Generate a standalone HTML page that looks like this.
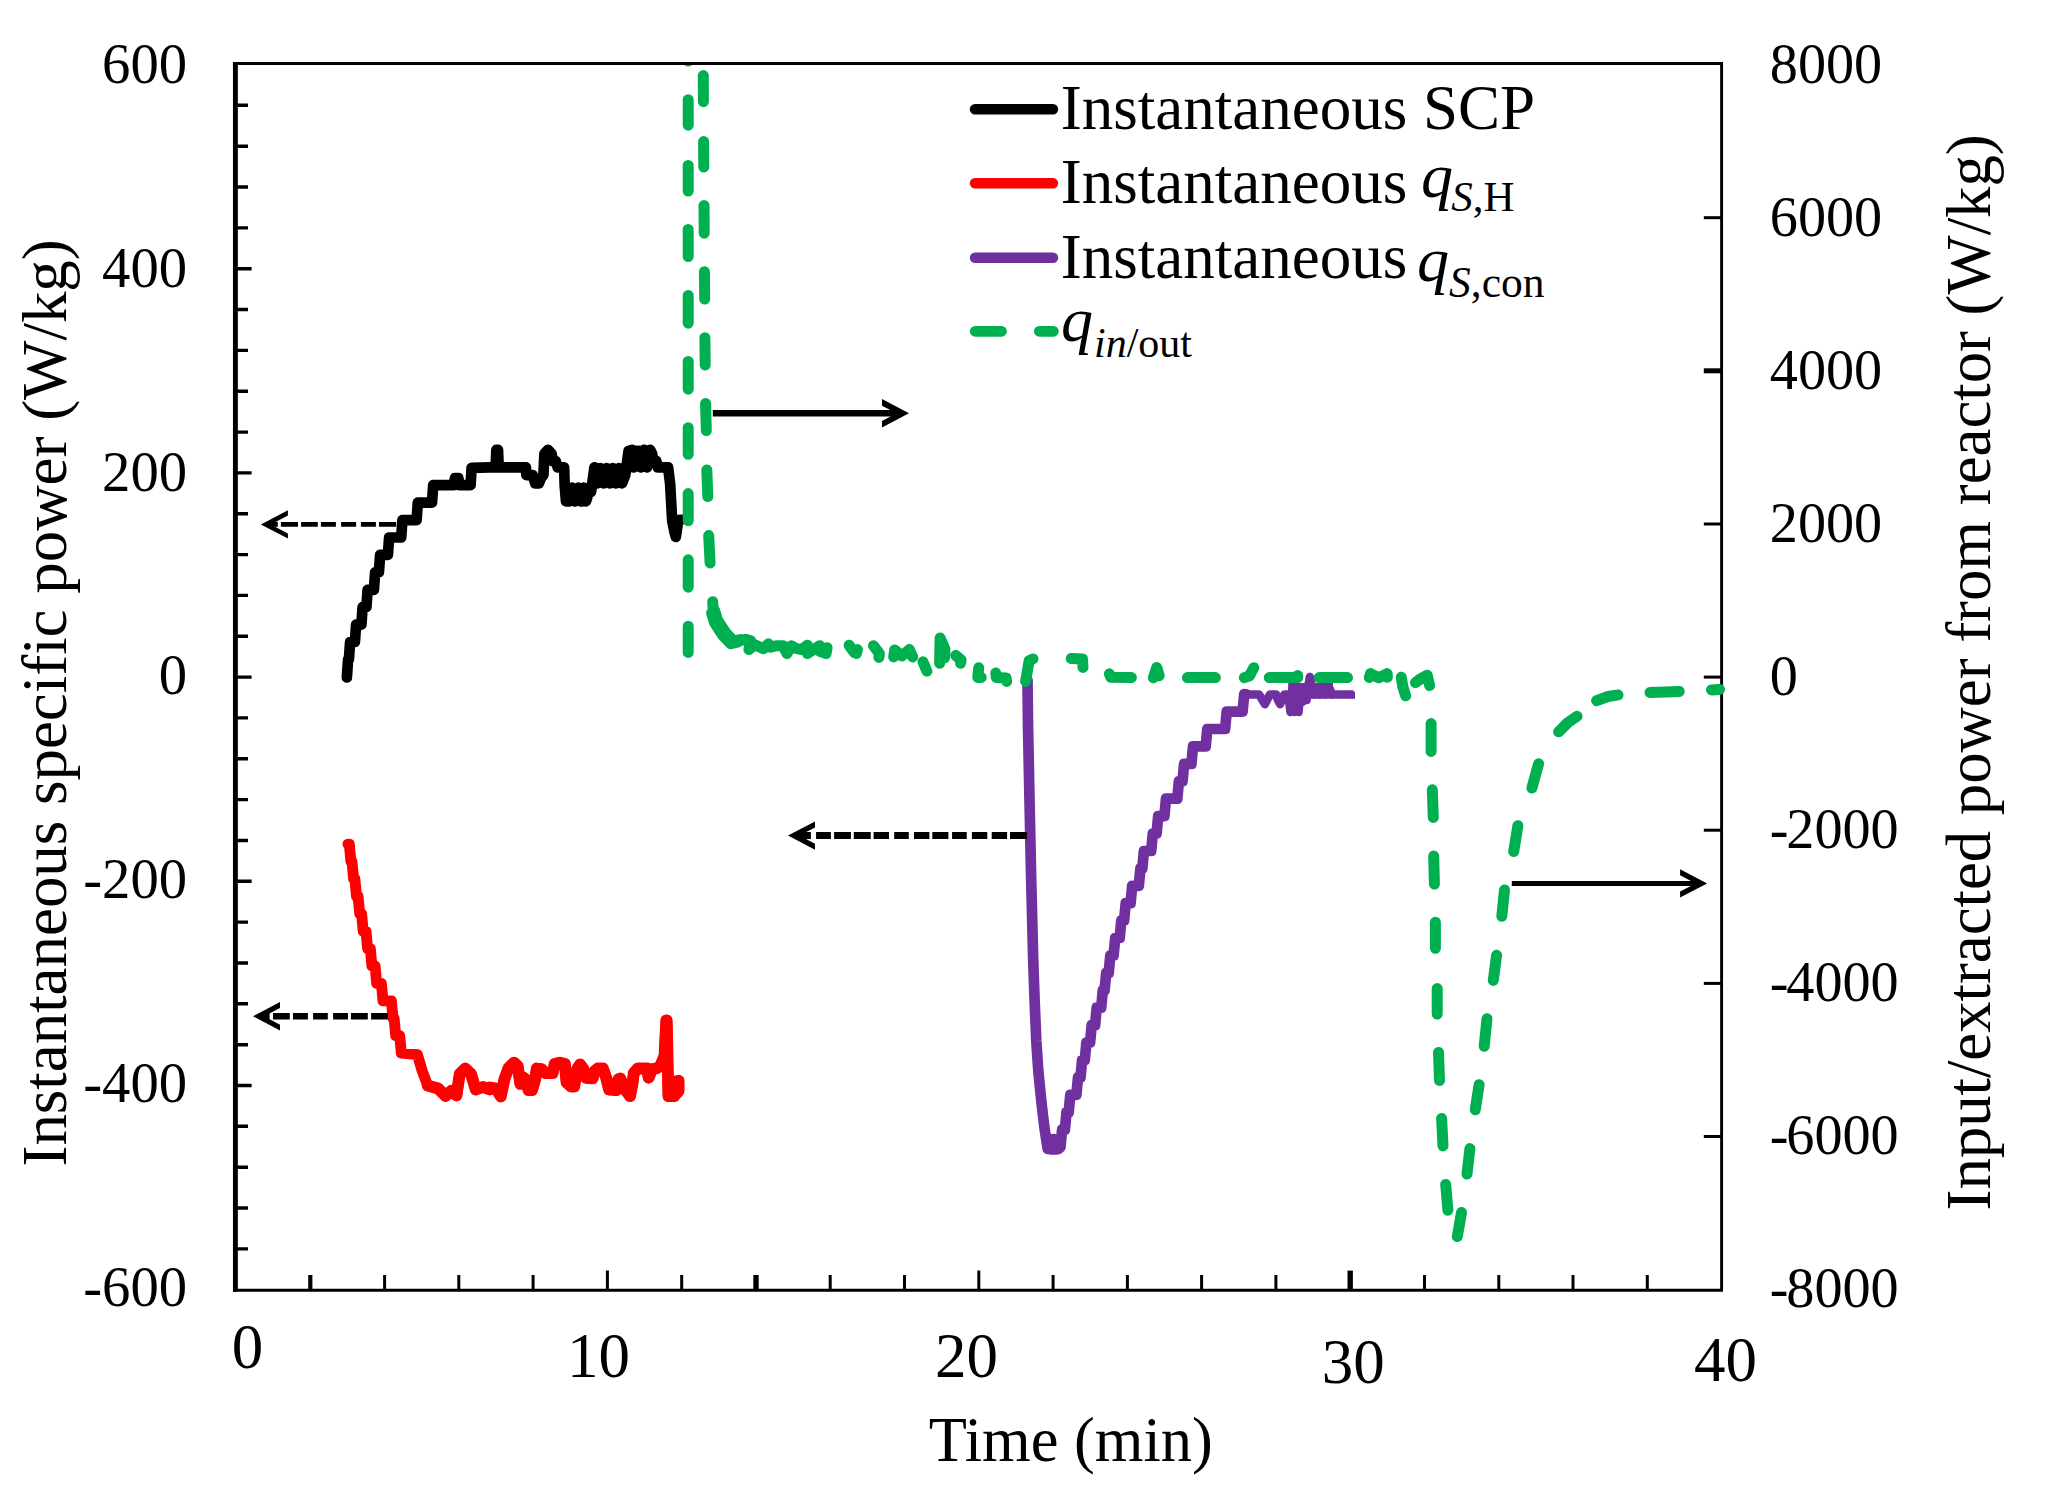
<!DOCTYPE html>
<html lang="en"><head><meta charset="utf-8"><title>Instantaneous specific power chart</title>
<style>html,body{margin:0;padding:0;background:#fff}body{width:2046px;height:1490px;overflow:hidden}svg{display:block}</style>
</head><body>
<svg width="2046" height="1490" viewBox="0 0 2046 1490" shape-rendering="geometricPrecision">
<rect width="2046" height="1490" fill="#fff"/>
<g stroke="#000" fill="none" stroke-linecap="butt">
<line x1="235.4" y1="61.9" x2="235.4" y2="1291.8" stroke-width="4.9"/>
<line x1="233" y1="63.4" x2="1723" y2="63.4" stroke-width="3"/>
<line x1="233" y1="1290.3" x2="1723" y2="1290.3" stroke-width="3.1"/>
<line x1="1721.6" y1="63.4" x2="1721.6" y2="1290.3" stroke-width="2.9"/>
<path d="M235.4 105.3H248M235.4 146.2H248M235.4 187H248M235.4 227.9H248M235.4 268.7H251.6M235.4 309.5H248M235.4 350.4H248M235.4 391.2H248M235.4 432.1H248M235.4 472.9H251.6M235.4 513.7H248M235.4 554.6H248M235.4 595.4H248M235.4 636.3H248M235.4 677.1H251.6M235.4 717.9H248M235.4 758.8H248M235.4 799.6H248M235.4 840.5H248M235.4 881.3H251.6M235.4 922.1H248M235.4 963H248M235.4 1003.8H248M235.4 1044.7H248M235.4 1085.5H251.6M235.4 1126.3H248M235.4 1167.2H248M235.4 1208H248M235.4 1248.9H248" stroke-width="3.4"/>
<line x1="1703.8" y1="217.7" x2="1721.6" y2="217.7" stroke-width="3.0"/>
<line x1="1703.8" y1="370.8" x2="1721.6" y2="370.8" stroke-width="5.0"/>
<line x1="1703.8" y1="524" x2="1721.6" y2="524" stroke-width="3.0"/>
<line x1="1703.8" y1="677.1" x2="1721.6" y2="677.1" stroke-width="3.0"/>
<line x1="1703.8" y1="830.2" x2="1721.6" y2="830.2" stroke-width="3.0"/>
<line x1="1703.8" y1="983.4" x2="1721.6" y2="983.4" stroke-width="3.0"/>
<line x1="1703.8" y1="1136.5" x2="1721.6" y2="1136.5" stroke-width="3.0"/>
<line x1="310.3" y1="1275" x2="310.3" y2="1290.3" stroke-width="4.2"/>
<line x1="756" y1="1275" x2="756" y2="1290.3" stroke-width="5.4"/>
<line x1="1350.2" y1="1270.6" x2="1350.2" y2="1290.3" stroke-width="5.4"/>
<path d="M384.6 1275V1290.3M458.8 1275V1290.3M533.1 1275V1290.3M607.4 1270.6V1290.3M681.7 1275V1290.3M830.2 1275V1290.3M904.5 1275V1290.3M978.8 1270.6V1290.3M1053.1 1275V1290.3M1127.4 1275V1290.3M1201.6 1275V1290.3M1275.9 1275V1290.3M1424.5 1275V1290.3M1498.8 1275V1290.3M1573 1275V1290.3M1647.3 1275V1290.3" stroke-width="3"/>
</g>
<clipPath id="plotclip"><rect x="230" y="64.9" width="1500" height="1300"/></clipPath>
<g clip-path="url(#plotclip)">
<g fill="none" stroke-linejoin="round" stroke-linecap="round">
<path d="M346.9 677.5 L346.9 676.9 L348.1 659.4 L348.9 659.4 L350.1 642 L354.9 642 L356.1 624.6 L361.4 624.6 L362.6 607.2 L366.4 607.2 L367.6 589.8 L373.9 589.8 L375.1 572.3 L378.9 572.3 L380.1 554.9 L387.9 554.9 L389.1 537.5 L401.2 537.5 L402.4 520.1 L416.6 520.1 L417.8 502.6 L432 502.6 L433.2 485.2 L453.5 485.2 L455 478.2 L458.3 478.2 L459.5 485.2 L470.6 485.2 L471.6 467.8 L490 467.4 L495.6 467.4 L496.4 449.8 L498 449.8 L498.7 467.4 L525.9 467.4 L526.4 475.1 L532.6 475.1 L535.2 483.3 L538.8 483.3 L541.3 477.5 L543.4 475.1 L544.4 453.9 L548 449.8 L551.6 453.9 L552.8 461.1 L555.7 461.1 L557.7 467.4 L564.1 467.4 L564.7 485.9 L566 501.4 L569 501.4 L572.1 487.7 L575.2 501.4 L578.3 487.7 L581.3 501.4 L583.9 487.7 L586 501.4 L588.5 493.9 L591.1 491.8 L594.4 467.4 L597.5 483.3 L600.5 468.2 L603.6 483.3 L606.7 468.2 L609.8 483.3 L612.9 468.2 L615.9 483.3 L619 468.2 L622.1 483.3 L625.2 475.4 L628.6 450.8 L632.2 449.8 L633.7 467.4 L635.7 450.8 L637 459 L638.3 450.8 L640.9 467.4 L644 449.8 L647 467.4 L650.1 449.8 L652.2 453.9 L653.2 461.1 L656.3 461.1 L657.8 467.4 L668.1 467.4 L670.1 483.6 L672.2 520.6 L674.2 530.8 L675.8 537 L678.3 520.1 L681.1 519.8" stroke="#000" stroke-width="10.7"/>
<path d="M347.9 844.1 L349.3 844.1 L350.9 861.5 L352 861.5 L353.6 878.9 L354.9 878.9 L356.5 896.4 L358.1 896.4 L359.7 913.8 L361.6 913.8 L363.2 931.2 L366 931.2 L367.6 948.6 L370.3 948.6 L371.9 966 L375.1 966 L376.7 983.5 L381.4 983.5 L383 1000.9 L391.4 1000.9 L393 1018.3 L394.1 1018.3 L395.7 1035.7 L399.7 1035.7 L401.3 1053.1 L417.4 1054.6 L422.1 1070.6 L427.7 1085.6 L438.1 1088.5 L445.6 1096 L451 1091 L456.5 1095.5 L459.7 1074 L465.3 1068.5 L471 1074 L475.7 1089.5 L483 1087 L489.8 1089.5 L490 1087.5 L496.2 1088.5 L500.8 1096.5 L504.4 1079.3 L508.5 1068 L514.1 1062.6 L517.7 1066 L520.3 1083.9 L522.8 1077.2 L525.4 1079.3 L528.5 1090.1 L532.1 1090.1 L535.2 1079.3 L536.7 1068.5 L541.3 1069 L545.4 1073.1 L552.6 1073.1 L554.7 1063.9 L559.8 1062.6 L564.9 1063.9 L566.5 1082.4 L571.1 1086.5 L574.2 1086.5 L577.2 1069 L580.1 1064.4 L583.4 1069 L586 1077.8 L592.6 1078.3 L594.7 1071.1 L597.8 1068.5 L602.9 1068.5 L606 1077.2 L609.1 1089.6 L616.2 1090.1 L618.3 1079.3 L620.3 1078.5 L624.5 1088.5 L630.1 1096.2 L632.7 1082.4 L633.7 1073.1 L637.8 1068.5 L647 1068.5 L648.6 1077.8 L652.2 1069 L656.3 1068.5 L660.4 1066 L664.5 1055.7 L666.3 1020.3 L666.7 1020.3 L668.4 1096.2 L669.6 1082.4 L671.2 1096.2 L672.7 1081.3 L674.2 1096.2 L675.8 1081.3 L677.3 1092.6 L678.6 1080.8 L678.6 1091.1" stroke="#f00" stroke-width="10.9"/>
<path d="M427.7 1085.6 L438.1 1088.5 L445.6 1096 L451 1091 L456.5 1095.5 L459.7 1074 L465.3 1068.5 L471 1074 L475.7 1089.5 L483 1087 L489.8 1089.5 L490 1087.5 L496.2 1088.5 L500.8 1096.5 L504.4 1079.3 L508.5 1068 L514.1 1062.6 L517.7 1066 L520.3 1083.9 L522.8 1077.2 L525.4 1079.3 L528.5 1090.1 L532.1 1090.1 L535.2 1079.3 L536.7 1068.5 L541.3 1069 L545.4 1073.1 L552.6 1073.1 L554.7 1063.9 L559.8 1062.6 L564.9 1063.9 L566.5 1082.4 L571.1 1086.5 L574.2 1086.5 L577.2 1069 L580.1 1064.4 L583.4 1069 L586 1077.8 L592.6 1078.3 L594.7 1071.1 L597.8 1068.5 L602.9 1068.5 L606 1077.2 L609.1 1089.6 L616.2 1090.1 L618.3 1079.3 L620.3 1078.5 L624.5 1088.5 L630.1 1096.2 L632.7 1082.4 L633.7 1073.1 L637.8 1068.5 L647 1068.5 L648.6 1077.8 L652.2 1069 L656.3 1068.5 L660.4 1066 L664.5 1055.7 L666.3 1020.3 L666.7 1020.3 L668.4 1096.2 L669.6 1082.4 L671.2 1096.2 L672.7 1081.3 L674.2 1096.2 L675.8 1081.3 L677.3 1092.6 L678.6 1080.8 L678.6 1091.1" stroke="#f00" stroke-width="11.8"/>
<path d="M1027.5 680 L1028 725 L1029.5 800 L1031.2 880 L1032.2 920 L1033.2 960 L1034.6 1000 L1036.3 1041 L1038.3 1071 L1041.3 1101 L1044.3 1127 L1047.7 1148.9 L1049.5 1139 L1051.5 1149.5 L1053.5 1139 L1055.5 1149.5 L1058.4 1148.9 L1060.5 1147.1 L1062.1 1129.7 L1064.9 1129.7 L1066.5 1112.2 L1068.7 1112.2 L1070.3 1094.8 L1076.4 1094.8 L1078 1077.4 L1080.5 1077.4 L1082.1 1060 L1084.8 1060 L1086.4 1042.6 L1090.1 1042.6 L1091.7 1025.2 L1095.1 1025.2 L1096.7 1007.7 L1101.2 1007.7 L1102.8 990.3 L1104.6 990.3 L1106.2 972.9 L1108.7 972.9 L1110.3 955.5 L1113.6 955.5 L1115.2 938 L1119.7 938 L1121.3 920.6 L1124.1 920.6 L1125.7 903.2 L1130.6 903.2 L1132.2 885.8 L1138.8 885.8 L1140.4 868.4 L1142.3 868.4 L1143.9 851 L1151.2 851 L1152.8 833.5 L1156.6 833.5 L1158.2 816.1 L1164.4 816.1 L1166 798.7 L1177.3 798.7 L1178.9 781.3 L1182.5 781.3 L1184.1 763.9 L1191.4 763.9 L1193 746.4 L1205.7 746.4 L1207.3 729 L1225.1 729 L1226.7 711.6 L1242.6 711.6 L1244.2 694.2 L1246 694.4" stroke="#7030a0" stroke-width="10.7"/>
<path d="M1244.5 694.5 L1259 694.5 L1262.5 700 L1264.9 704.2 L1267.5 699 L1270 694.5 L1276 694.5 L1278 700 L1280.1 704.2 L1282.5 698 L1284.5 694.5 L1288.4 694.5 L1290.5 712 L1292.5 688 L1294.5 712 L1296.5 688 L1298.5 712 L1300.6 690 L1302.5 701.7 L1304.5 688 L1306.5 700 L1309.9 677 L1312.5 690 L1314 694.4 L1317 687.3 L1320 694.4 L1323 687.3 L1326 694.4 L1329 687.3 L1332 694.4 L1350 694.5" stroke="#7030a0" stroke-width="8.6" stroke-linecap="butt"/>
<path d="M1349.5 690.2h3.5l2 2v6.6h-5.5zM1288.2 683H1332.9V698.7H1288.2z" fill="#7030a0" stroke="none"/>
<path d="M688.2 60.4 L688.2 61.1 M688.2 99.7 L688.2 125.2 M688.2 165.4 L688.2 191.1 M688.2 229.4 L688.2 256.6 M688.2 295.4 L688.2 323.2 M688.2 361.4 L688.2 389.2 M688.2 427.7 L688.2 454.3 M688.2 493.6 L688.2 520.7 M688.2 559.8 L688.2 587.2 M688.2 626.2 L688.2 652.4 M703.3 75.6 L703.4 101.7 M703.6 141.5 L703.8 167 M704 205.5 L704.2 233.2 M704.4 271.7 L704.7 299.1 M704.9 337.7 L705.2 365 M705.6 403.5 L706.3 430.6 M706.8 469.9 L707.8 496.6 M708.7 535.6 L710.1 563 M712.7 601.7 L713.2 611.5 L716.1 621.3 L724.4 634 L732.3 642.3 L739.1 640.8 L745.5 639.4 L750.8 640.8 L748.9 649.6 L754.7 644.7 L763.5 648.7 L768.4 643.8 L770.4 647.2 L777.2 645.7 L783.1 645.7 L787 653.5 L791.4 645.7 L796.8 648.7 L801.7 649.6 L807.5 645.2 L807.5 653.5 L813.4 649.6 L819.7 645.7 L820.2 651.6 L826.1 653.5 L827.1 647.7 M711.6 612.9 L714.5 622.7 L722.8 635.4 L730.7 643.7 L737.5 642.2 M714.6 610.3 L717.5 620.1 L725.8 632.8 L733.7 641.1 L740.5 639.6 M849.1 645.2 L854.4 652.6 L857.4 649.6 L856.4 653.5 M873.5 645.7 L879.4 653.5 L878.9 657.4 M893.7 656.9 L894.7 649.9 L902 655.9 L909.3 649.6 L912.7 656.9 M923 661.8 L926.9 671.1 M939.6 663.3 L940.1 637.9 L945 649.1 L944.5 657.9 M955.8 655.5 L961.1 659.9 L960.6 663.3 M978.7 667.7 L977.8 677.4 L981.2 677.4 M995.8 673 L996.3 677.4 L1006.1 677.9 L1006.6 681.4 M1025.6 681.4 L1029.1 660.8 L1033 658.9 M1071.2 658.6 L1082.5 659.1 L1083 667.4 M1109.4 673.8 L1110.8 677.2 L1131.4 677.5 M1153.4 677.7 L1156.8 667.4 L1159.2 675.7 M1187.4 677.6 L1215.4 677.6 M1244.3 677.7 L1249.5 675.8 L1253.8 667.7 M1269.3 677.6 L1297.7 677.6 L1297.7 675.5 M1319.2 677.6 L1347.5 677.6 M1369.3 677.5 L1370.5 673.6 L1378.8 677.7 L1387.1 673.6 L1387.4 677.2 M1401.3 677.2 L1402.8 686.5 L1405.7 695.8 M1415.5 682.6 L1421 678.5 L1427.2 675.2 L1429.6 685.5 M1431.1 723.6 L1431.1 751.4 M1432.3 789.8 L1433.3 817.5 M1433.7 856 L1434.4 884.1 M1435.4 922.2 L1435.4 948.3 M1437.2 988.6 L1437.2 1014 M1438.5 1052.4 L1439.5 1080.4 M1441.6 1118.4 L1443 1145.9 M1445.7 1184.4 L1447.9 1210.3 M1457.3 1236.6 L1461.5 1212.5 M1467 1174 L1469.9 1148.6 M1475.3 1109.7 L1479.1 1084.7 M1484.2 1046.2 L1487 1018.8 M1493.3 980.4 L1496.6 955.3 M1501.8 916.2 L1504.5 890 M1513.7 851.5 L1517.9 825.7 M1531.9 788 L1538.6 763.7 M1558.6 731.8 L1568 722.5 L1577.1 716.3 M1596.6 700.7 L1608 696.5 L1618 694.9 M1650 692.5 L1679.2 691.4 M1711.5 689.9 L1719.5 689.4" stroke="#00b050" stroke-width="11"/>
<path d="M1303.6 684.5L1309.9 672.3L1316.2 684.5Z" fill="#7030a0" stroke="none"/>
</g>
</g>
<g fill="#000" stroke="none">
<path d="M712.8 410H897.5V416.6H712.8Z"/>
<polygon points="909,413.3 882,399.1 882,405.7 896.5,413.3 882,420.9 882,427.5"/>
<path d="M1511.8 880.9H1696.7V885.9H1511.8Z"/>
<polygon points="1707.1,883.4 1680.1,869.2 1680.1,875.2 1695.7,883.4 1680.1,891.6 1680.1,897.6"/>
<path d="M280.9 522H298V526.8H280.9ZM301.1 522H317.8V526.8H301.1ZM320.9 522H335.9V526.8H320.9ZM341.1 522H356.1V526.8H341.1ZM360.9 522H375.9V526.8H360.9ZM379 522H396.1V526.8H379ZM269.8 522H277.8V526.8H269.8Z"/>
<polygon points="260.9,524.4 287.9,510.2 287.9,515.4 270.8,524.4 287.9,533.4 287.9,538.6"/>
<path d="M816.1 832.1H830.9V839.1H816.1ZM834.1 832.1H850.9V839.1H834.1ZM853.8 832.1H870.7V839.1H853.8ZM873.6 832.1H889V839.1H873.6ZM894.2 832.1H908.8V839.1H894.2ZM914 832.1H929.4V839.1H914ZM932.3 832.1H948.4V839.1H932.3ZM952.1 832.1H966.7V839.1H952.1ZM971.9 832.1H987.3V839.1H971.9ZM991.7 832.1H1007.1V839.1H991.7ZM1010 832.1H1026.9V839.1H1010ZM798.4 832.1H810.9V839.1H798.4Z"/>
<polygon points="788,835.6 815,821.4 815,827.4 799.4,835.6 815,843.8 815,849.8"/>
<path d="M273 1012.9H289.8V1019.6H273ZM293 1012.9H307.9V1019.6H293ZM313.1 1012.9H327.8V1019.6H313.1ZM333.1 1012.9H348V1019.6H333.1ZM350.9 1012.9H367.8V1019.6H350.9ZM371.1 1012.9H387.9V1019.6H371.1ZM263 1012.9H269.6V1019.6H263Z"/>
<polygon points="253,1016.3 280,1002.1 280,1007.9 264,1016.3 280,1024.7 280,1030.5"/>
</g>
<g fill="none" stroke-linecap="round" stroke-width="10.4">
<line x1="975" y1="109.2" x2="1053" y2="109.2" stroke="#000"/>
<line x1="975" y1="183.3" x2="1053" y2="183.3" stroke="#f00"/>
<line x1="975" y1="257.7" x2="1053" y2="257.7" stroke="#7030a0"/>
<path d="M975.2 331.3H1001.5M1039.3 331.3H1053.4" stroke="#00b050" stroke-width="10.8"/>
</g>
<g font-family="'Liberation Serif', serif" fill="#000">
<g font-size="56.7" text-anchor="end">
<text x="187.1" y="82.7">600</text>
<text x="187.1" y="286.6">400</text>
<text x="187.1" y="490.5">200</text>
<text x="187.1" y="694.4">0</text>
<text x="187.1" y="898.3">-200</text>
<text x="187.1" y="1102.2">-400</text>
<text x="187.1" y="1306.1">-600</text>
</g>
<g font-size="56.2">
<text x="1769.8" y="82.7">8000</text>
<text x="1769.8" y="235.7">6000</text>
<text x="1769.8" y="388.7">4000</text>
<text x="1769.8" y="541.7">2000</text>
<text x="1769.8" y="694.7">0</text>
<text x="1769.8" y="847.7" dx="0 -2.2">-2000</text>
<text x="1769.8" y="1000.7" dx="0 -2.2">-4000</text>
<text x="1769.8" y="1153.7" dx="0 -2.2">-6000</text>
<text x="1769.8" y="1306.7" dx="0 -2.2">-8000</text>
</g>
<g font-size="63" text-anchor="middle">
<text x="247.5" y="1368">0</text>
<text x="598.6" y="1377">10</text>
<text x="966.4" y="1377">20</text>
<text x="1353.2" y="1383">30</text>
<text x="1725.4" y="1381">40</text>
<text x="1070.8" y="1461" font-size="62.5">Time (min)</text>
</g>
<text transform="translate(66 702.9) rotate(-90) scale(0.983 1)" font-size="64" text-anchor="middle">Instantaneous specific power (W/kg)</text>
<text transform="translate(1989.7 672.4) rotate(-90) scale(0.98 1)" font-size="64" text-anchor="middle">Input/extracted power from reactor (W/kg)</text>
<g font-size="63">
<text x="1060.8" y="129">Instantaneous SCP</text>
<text><tspan x="1060.8" y="203">Instantaneous </tspan><tspan x="1421" y="197" font-style="italic" font-size="64">q</tspan><tspan x="1451.3" y="210.5" font-size="43" font-style="italic">S</tspan><tspan font-size="43">,H</tspan></text>
<text><tspan x="1060.8" y="277.5">Instantaneous </tspan><tspan x="1417" y="281" font-style="italic" font-size="64">q</tspan><tspan x="1449.1" y="297" font-size="43.5" font-style="italic">S</tspan><tspan font-size="43.5">,con</tspan></text>
<text><tspan x="1061" y="340.5" font-style="italic" font-size="64">q</tspan><tspan x="1094" y="357" font-size="42" font-style="italic">in</tspan><tspan font-size="42">/out</tspan></text>
</g>
</g>
</svg>
</body></html>
